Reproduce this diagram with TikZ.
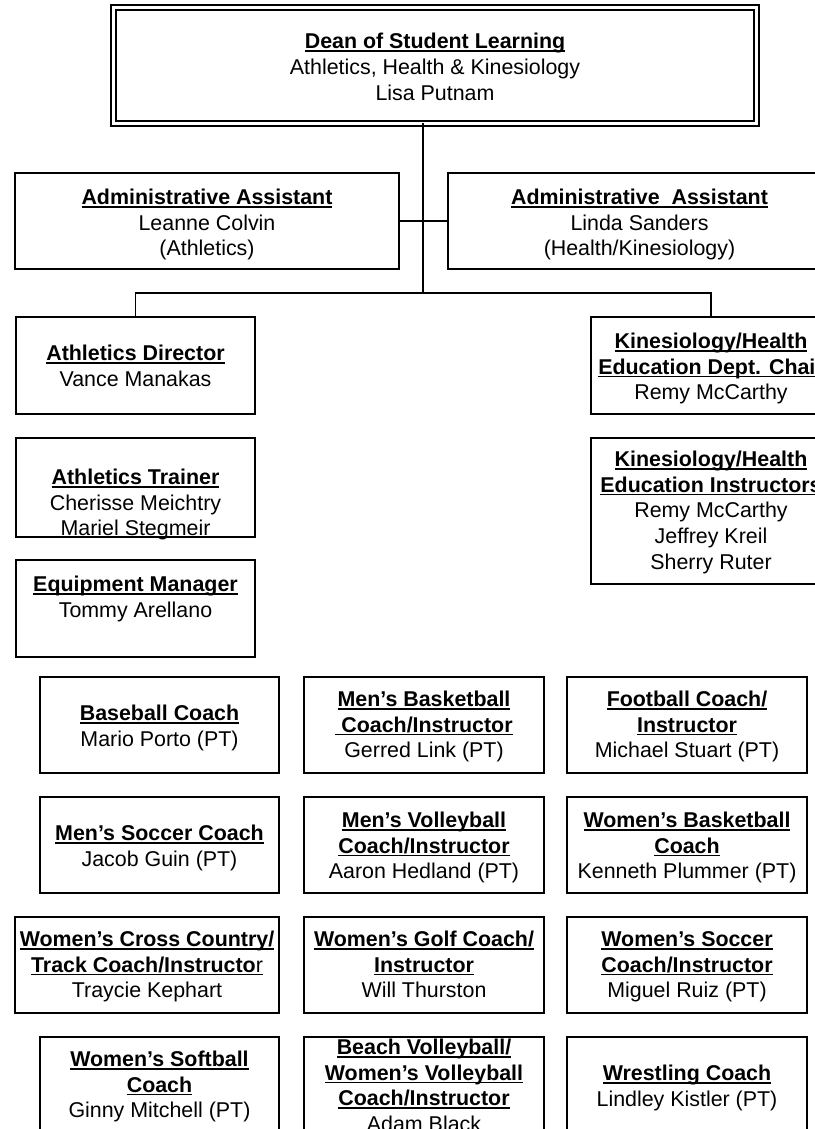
\documentclass[tikz,border=0pt]{standalone}
\usepackage{fontspec}
\setmainfont{Liberation Sans}
\newsavebox\ulbox
\newcommand\uln[1]{\sbox\ulbox{#1}\rlap{\rule[-3.3pt]{\wd\ulbox}{1.8pt}}\usebox\ulbox}
\newcommand\ttl[1]{\uln{\textbf{#1}}}
\newcommand\orgfont{\fontsize{21.4}{25.8}\selectfont}
\tikzset{
  box/.style={draw=black, line width=1.3pt, rectangle, inner sep=0pt, outer sep=0pt},
  txt/.style={align=center, inner sep=0pt, font=\orgfont, text=black},
  conn/.style={draw=black, line width=1.3pt}
}
% [style]{name}{x1}{y1}{x2}{y2}{first baseline}{text}
\newcommand\orgbox[8][]{%
  \pgfmathsetmacro\bw{#5-#3}\pgfmathsetmacro\bh{#6-#4}%
  \node[box,#1,minimum width=\bw pt,minimum height=\bh pt] (#2) at ({(#3+#5)/2},{(#4+#6)/2}) {};
  \node[txt,anchor=north] (#2-t) at ({(#3+#5)/2},{#7-18.06}) {\strut #8};}
\begin{document}
\begin{tikzpicture}[x=1pt,y=-1pt]
\useasboundingbox (0,0) rectangle (814,1129);
\fill[white] (0,0) rectangle (814,1129);
% top
\orgbox[double,double distance=3.7pt]{dean}{113.5}{7.5}{756.5}{123.5}{48.5}{\ttl{Dean of Student Learning}\\Athletics, Health \& Kinesiology\\Lisa Putnam}
\orgbox{adminL}{15}{173}{399}{269}{204}{\ttl{Administrative Assistant}\\Leanne Colvin\\(Athletics)}
\orgbox{adminR}{448}{173}{831}{269}{204}{\ttl{Administrative\ \ Assistant}\\Linda Sanders\\(Health/Kinesiology)}
% left column
\orgbox{ad}{16}{317}{255}{414}{360}{\ttl{Athletics Director}\\Vance Manakas}
\orgbox{at}{16}{438}{255}{537}{484}{\ttl{Athletics Trainer}\\Cherisse Meichtry\\Mariel Stegmeir}
\orgbox{em}{16}{560}{255}{657}{591}{\ttl{Equipment Manager}\\Tommy Arellano}
% right column
\orgbox{kc}{591}{317}{831}{414}{348}{\ttl{Kinesiology/Health}\\\ttl{Education Dept. Chair}\\Remy McCarthy}
\orgbox{ki}{591}{438}{831}{584}{466}{\ttl{Kinesiology/Health}\\\ttl{Education Instructors}\\Remy McCarthy\\Jeffrey Kreil\\Sherry Ruter}
% coaches row 1
\orgbox{baseball}{40}{677}{279}{773}{720}{\ttl{Baseball Coach}\\Mario Porto (PT)}
\orgbox{mbb}{304}{677}{544}{773}{706}{\ttl{Men’s Basketball}\\\ttl{\ Coach/Instructor}\\Gerred Link (PT)}
\orgbox{football}{567}{677}{807}{773}{706}{\ttl{Football Coach/}\\\ttl{Instructor}\\Michael Stuart (PT)}
% row 2
\orgbox{msoc}{40}{797}{279}{893}{840}{\ttl{Men’s Soccer Coach}\\Jacob Guin (PT)}
\orgbox{mvb}{304}{797}{544}{893}{827}{\ttl{Men’s Volleyball}\\\ttl{Coach/Instructor}\\Aaron Hedland (PT)}
\orgbox{wbb}{567}{797}{807}{893}{827}{\ttl{Women’s Basketball}\\\ttl{Coach}\\Kenneth Plummer (PT)}
% row 3
\orgbox{wcc}{15}{917}{279}{1013}{946}{\ttl{Women’s Cross Country/}\\\uln{\textbf{Track Coach/Instructo}r}\\Traycie Kephart}
\orgbox{wgolf}{304}{917}{544}{1013}{946}{\ttl{Women’s Golf Coach/}\\\ttl{Instructor}\\Will Thurston}
\orgbox{wsoc}{567}{917}{807}{1013}{946}{\ttl{Women’s Soccer}\\\ttl{Coach/Instructor}\\Miguel Ruiz (PT)}
% row 4
\orgbox{wsb}{40}{1037}{279}{1133}{1066}{\ttl{Women’s Softball}\\\ttl{Coach}\\Ginny Mitchell (PT)}
\orgbox{beach}{304}{1037}{544}{1133}{1054}{\ttl{Beach Volleyball/}\\\ttl{Women’s Volleyball}\\\ttl{Coach/Instructor}\\Adam Black}
\orgbox{wrest}{567}{1037}{807}{1133}{1080}{\ttl{Wrestling Coach}\\Lindley Kistler (PT)}
% connectors
\coordinate (j1) at (423,293);
\draw[conn] (dean.south -| j1) -- (j1);
\draw[conn] (adminL.east) -- (adminR.west);
\draw[conn] (ad.north) |- (j1) -| (kc.north);
\end{tikzpicture}
\end{document}
